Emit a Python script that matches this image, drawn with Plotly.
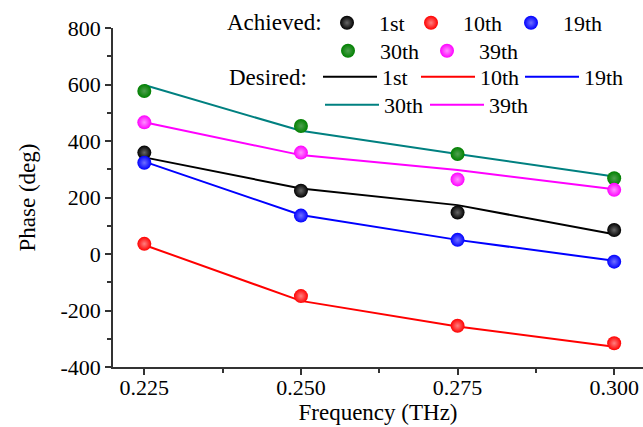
import plotly.graph_objects as go

freq = [0.225, 0.250, 0.275, 0.300]

achieved_1st = [359, 224, 147, 85]
achieved_10th = [36, -149, -254, -316]
achieved_19th = [323, 136, 50, -27]
achieved_30th = [577, 453, 354, 268]
achieved_39th = [466, 359, 264, 227]

desired_1st = [342, 232, 173, 70]
desired_10th = [32, -166, -257, -328]
desired_19th = [327, 138, 50, -24]
desired_30th = [598, 436, 354, 274]
desired_39th = [466, 350, 297, 229]

labels = ["1st", "10th", "19th", "30th", "39th"]
achieved = [achieved_1st, achieved_10th, achieved_19th, achieved_30th, achieved_39th]
desired = [desired_1st, desired_10th, desired_19th, desired_30th, desired_39th]
ball_colors = ["#000000", "#ff0000", "#0000ff", "#008000", "#ff00ff"]
ball_light = ["#666666", "#ff8080", "#7070ff", "#50a050", "#ff90ff"]
line_colors = ["#000000", "#ff0000", "#0000ff", "#008080", "#ff00ff"]

x_tickvals = [0.225, 0.250, 0.275, 0.300]
x_ticktext = ["0.225", "0.250", "0.275", "0.300"]
y_tickvals = [-400, -200, 0, 200, 400, 600, 800]
y_ticktext = ["-400", "-200", "0", "200", "400", "600", "800"]

FONT = "Liberation Serif"

# legend entry placement (pixel positions of each entry's start, and row centers)
ach_pos = [(315, 23), (399, 23), (499, 23), (316, 51), (415, 51)]
des_pos = [(318, 77), (416, 77), (520, 77), (320, 105), (425, 105)]

PLOT_L, PLOT_W, PLOT_B, PLOT_H = 113, 530.0, 367, 339.0

def px(p):
    return (p - PLOT_L) / PLOT_W

def py(p):
    return (PLOT_B - p) / PLOT_H

fig = go.Figure()

legend_layout = {}
common = dict(orientation="h", xanchor="left", yanchor="middle",
              itemwidth=54,
              font=dict(family=FONT, size=22, color="black"),
              bgcolor="rgba(0,0,0,0)", borderwidth=0)

for i, lab in enumerate(labels):
    key = "legend%d" % (6 + i)
    fig.add_trace(go.Scatter(
        x=freq, y=desired[i], mode="lines", name=lab,
        line=dict(color=line_colors[i], width=2),
        legend=key, showlegend=True,
    ))
    legend_layout[key] = dict(common, x=px(des_pos[i][0]), y=py(des_pos[i][1]))

for i, lab in enumerate(labels):
    key = "legend" if i == 0 else "legend%d" % (1 + i)
    fig.add_trace(go.Scatter(
        x=freq, y=achieved[i], mode="markers", name=lab,
        marker=dict(size=14, color=ball_colors[i],
                    gradient=dict(type="radial", color=ball_light[i]),
                    line=dict(width=0)),
        legend=key, showlegend=True,
    ))
    legend_layout[key] = dict(common, x=px(ach_pos[i][0]), y=py(ach_pos[i][1]))

fig.update_layout(showlegend=True, **legend_layout)

fig.add_annotation(text="Achieved:", x=px(225), y=py(23), xref="paper", yref="paper",
                   xanchor="left", yanchor="middle", showarrow=False,
                   font=dict(family=FONT, size=23, color="black"))
fig.add_annotation(text="Desired:", x=px(227), y=py(77), xref="paper", yref="paper",
                   xanchor="left", yanchor="middle", showarrow=False,
                   font=dict(family=FONT, size=23, color="black"))

axis_common = dict(showline=True, linecolor="#333333", linewidth=1.5,
                   ticks="outside", ticklen=6, tickwidth=1.5, tickcolor="#333333",
                   showgrid=False, zeroline=False, mirror=False,
                   tickfont=dict(family=FONT, size=22, color="black"))

fig.update_xaxes(axis_common, range=[0.2200, 0.3046],
                 tickvals=x_tickvals, ticktext=x_ticktext,
                 ticklabelstandoff=-6,
                 minor=dict(ticks="outside", ticklen=4, tickwidth=1.5, tickcolor="#333333",
                            dtick=0.0125, tick0=0.225, showgrid=False),
                 title=dict(text="Frequency (THz)", font=dict(family=FONT, size=23, color="black"),
                            standoff=4))
fig.update_yaxes(axis_common, range=[-400, 800],
                 tickvals=y_tickvals, ticktext=y_ticktext,
                 minor=dict(ticks="outside", ticklen=4, tickwidth=1.5, tickcolor="#333333",
                            dtick=100, tick0=0, showgrid=False),
                 title=dict(text="Phase (deg)", font=dict(family=FONT, size=23, color="black"),
                            standoff=18))

fig.update_layout(
    width=643, height=427,
    margin=dict(l=113, r=0, t=28, b=60),
    plot_bgcolor="white", paper_bgcolor="white",
    font=dict(family=FONT, size=22, color="black"),
)

fig.write_html("out.html")
